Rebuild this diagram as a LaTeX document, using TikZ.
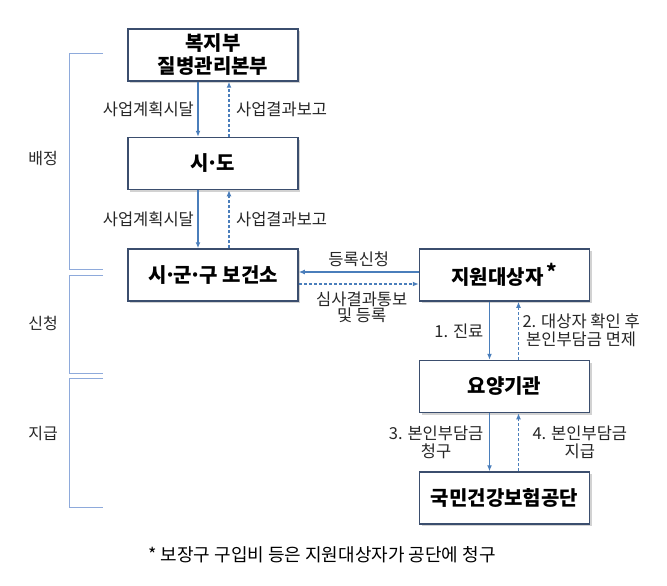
\documentclass[tikz,border=0pt]{standalone}
\usepackage{fontspec}
\setmainfont{Noto Sans CJK KR}
\usepackage{xcolor}
\usepackage{tikz}
\usetikzlibrary{positioning,arrows.meta,shadows}

\definecolor{boxline}{HTML}{3B4E6E}
\definecolor{arrowblue}{HTML}{4A7EBB}
\definecolor{bracketblue}{HTML}{8EAADB}
\newcommand{\jumdot}{\kern-.12em·\kern-.12em}

\begin{document}
\begin{tikzpicture}[x=1pt,y=-1pt,
    stage/.style={draw=boxline, rectangle, line width=1.5pt, fill=white,
      minimum width=170pt, minimum height=52pt, inner sep=2pt, align=center,
      font=\fontsize{20}{23}\selectfont\bfseries,
      drop shadow={shadow xshift=2pt, shadow yshift=-2pt, fill=black!35}},
    flow/.style={-{Latex[length=6pt,width=5pt]}, color=arrowblue, line width=1.5pt},
    back/.style={flow, dash pattern=on 3pt off 2pt},
    lbl/.style={font=\fontsize{16.5}{18}\selectfont, text=black!85, align=center},
    bracket/.style={draw=bracketblue, line width=1pt}]
    \useasboundingbox (0,0) rectangle (667,586);

    % Definisci i nodi
    \node[stage] (hq) at (213,55) {복지부\\질병관리본부};
    \node[stage, below=55pt of hq] (sido) {시\jumdot 도};
    \node[stage, below=58pt of sido] (center) {시\jumdot 군\jumdot 구 보건소};
    \node[stage, right=120pt of center] (target) {지원대상자\,\raisebox{0.45ex}{*}};
    \node[stage, below=58pt of target] (clinic) {요양기관};
    \node[stage, below=58pt of clinic] (nhis) {국민건강보험공단};

    % Disegna le frecce
    \draw[flow] ([xshift=-15pt]hq.south) -- node[lbl, left] {사업계획시달} ([xshift=-15pt]sido.north);
    \draw[back] ([xshift=16pt]sido.north) -- node[lbl, right, xshift=3pt] {사업결과보고} ([xshift=16pt]hq.south);
    \draw[flow] ([xshift=-15pt]sido.south) -- node[lbl, left] {사업계획시달} ([xshift=-15pt]center.north);
    \draw[back] ([xshift=16pt]center.north) -- node[lbl, right, xshift=3pt] {사업결과보고} ([xshift=16pt]sido.south);

    \draw[flow] ([yshift=3pt]target.west) -- node[lbl, above, yshift=1pt] {등록신청} ([yshift=3pt]center.east);
    \draw[back] ([yshift=-9pt]center.east) -- node[lbl, below, xshift=3pt, yshift=-4pt, font=\fontsize{16.5}{16}\selectfont] {심사결과통보\\및 등록} ([yshift=-9pt]target.west);

    \draw[flow] ([xshift=-15pt]target.south) -- node[lbl, left, xshift=-2pt] {1. 진료} ([xshift=-15pt]clinic.north);
    \draw[back] ([xshift=14pt]clinic.north) -- node[lbl, right] {2. 대상자 확인 후\\본인부담금 면제} ([xshift=14pt]target.south);
    \draw[flow] ([xshift=-15pt]clinic.south) -- node[lbl, left, xshift=-2pt] {3. 본인부담금\\청구} ([xshift=-15pt]nhis.north);
    \draw[back] ([xshift=14pt]nhis.north) -- node[lbl, right, xshift=10pt] {4. 본인부담금\\지급} ([xshift=14pt]clinic.south);

    % Fasi
    \draw[bracket] (103,54) -- (69,54) -- (69,269) -- (103,269);
    \draw[bracket] (103,275) -- (69,275) -- (69,373) -- (103,373);
    \draw[bracket] (103,378) -- (69,378) -- (69,507) -- (103,507);
    \node[lbl, font=\fontsize{16}{18}\selectfont] (assign) at (43,159) {배정};
    \node[lbl, font=\fontsize{16}{18}\selectfont] (apply) at (43,323) {신청};
    \node[lbl, font=\fontsize{16}{18}\selectfont] (pay) at (43,434) {지급};

    \node[lbl, font=\fontsize{18}{20}\selectfont, text=black] (note) at (322,555) {*\ 보장구 구입비 등은 지원대상자가 공단에 청구};
\end{tikzpicture}
\end{document}
